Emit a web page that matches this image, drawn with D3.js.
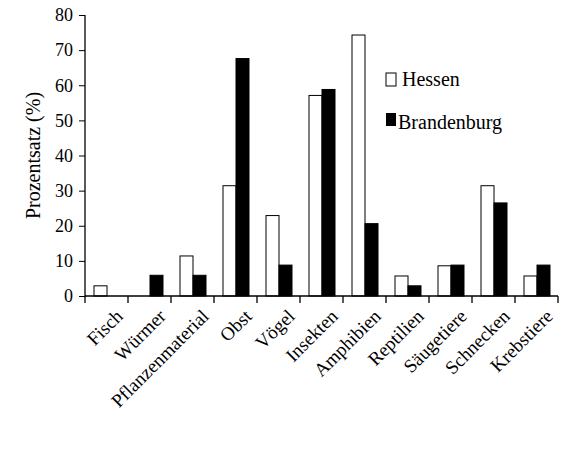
<!DOCTYPE html><html><head><meta charset="utf-8"><script src="https://cdn.jsdelivr.net/npm/d3@7"></script>
<style>body{margin:0;background:#fff}svg text{font-family:"Liberation Serif","Times New Roman",serif !important;fill:#000}</style></head><body><svg id="c" width="568" height="449"></svg><script>
const categories=["Fisch","Würmer","Pflanzenmaterial","Obst","Vögel","Insekten","Amphibien","Reptilien","Säugetiere","Schnecken","Krebstiere"];
const hessen=[2.9,0,11.4,31.4,22.9,57.1,74.3,5.7,8.6,31.4,5.7];
const brandenburg=[0,5.9,5.9,67.6,8.8,58.8,20.6,2.9,8.8,26.5,8.8];
const yTicks=[0,10,20,30,40,50,60,70,80];
const svg=d3.select("#c");
const L=85,R=558,T=15,B=296;
const x=d3.scaleBand().domain(categories).range([L,R]);
const y=d3.scaleLinear().domain([0,80]).range([B,T]);
const g=svg.append("g");
categories.forEach((c,i)=>{
  const x0=x(c),w=13;
  g.append("rect").attr("x",x0+9).attr("y",y(hessen[i])).attr("width",w).attr("height",B-y(hessen[i])).attr("fill","#fff").attr("stroke","#000").attr("stroke-width",1);
  g.append("rect").attr("x",x0+22).attr("y",y(brandenburg[i])).attr("width",w).attr("height",B-y(brandenburg[i])).attr("fill","#000").attr("stroke","#000").attr("stroke-width",1);
});
const ya=svg.append("g").attr("transform",`translate(${L},0)`).call(d3.axisLeft(y).tickValues(yTicks).tickSize(6).tickPadding(6));
ya.attr("font-family",null);
ya.select(".domain").attr("d",`M0,${T}V${B}`).attr("stroke","#000").attr("stroke-width",1.3);
ya.selectAll("text").attr("font-size",18);
const xa=svg.append("g").attr("transform",`translate(0,${B})`);
xa.append("line").attr("x1",L).attr("x2",R).attr("stroke","#000").attr("stroke-width",1.3);
categories.concat(["_end"]).forEach((c,i)=>{const xx=L+i*x.bandwidth();xa.append("line").attr("x1",xx).attr("x2",xx).attr("y1",0).attr("y2",7).attr("stroke","#000").attr("stroke-width",1.3);});
categories.forEach(c=>{const cx=x(c)+x.bandwidth()/2+8;
  xa.append("text").attr("transform",`translate(${cx},12) rotate(-45)`).attr("text-anchor","end").attr("dy","0.7em").attr("font-size",19).text(c);});
svg.append("text").attr("transform",`translate(40,${(T+B)/2}) rotate(-90)`).attr("text-anchor","middle").attr("font-size",20).text("Prozentsatz (%)");
svg.append("rect").attr("x",386).attr("y",73).attr("width",10).attr("height",13).attr("fill","#fff").attr("stroke","#000");
svg.append("text").attr("x",402).attr("y",86).attr("font-size",20).text("Hessen");
svg.append("rect").attr("x",386).attr("y",113).attr("width",10).attr("height",13).attr("fill","#000");
svg.append("text").attr("x",398).attr("y",129).attr("font-size",20).text("Brandenburg");
</script></body></html>
